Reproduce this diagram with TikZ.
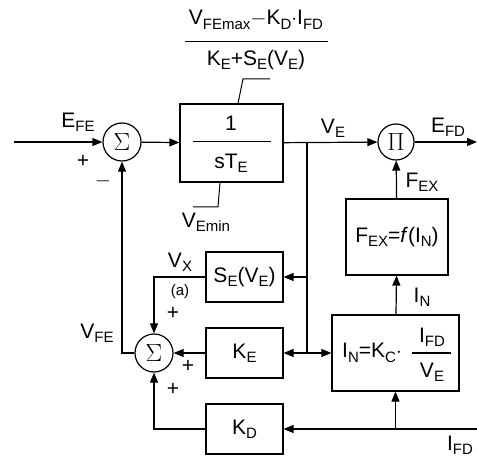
\documentclass[tikz,border=0pt]{standalone}
\usepackage{fontspec}
\setmainfont{Liberation Sans}
\usetikzlibrary{arrows.meta,positioning,calc}
\usepackage{xcolor}
% lowered small subscript
\newcommand\lo[1]{\raisebox{-0.4ex}{\fontsize{15}{15}\selectfont #1}}

\begin{document}
\begin{tikzpicture}[x=1pt,y=-1pt,line width=1.2pt,
    font=\fontsize{21}{24}\selectfont,
    >={Triangle[length=10pt,width=8pt]},
    blk/.style={draw,rectangle,inner sep=0pt},
    junc/.style={draw,circle,inner sep=0pt,minimum size=38pt,font=\fontsize{25}{28}\selectfont},
    lbl/.style={inner sep=0pt}]
  \useasboundingbox (0,0) rectangle (477,457);
  % summing points and multiplier
  \node[junc] (sum1) at (122,142) {$\Sigma$};
  \node[junc] (sum2) at (154,353) {$\Sigma$};
  \node[junc,minimum size=36pt] (mul) at (396,142) {$\Pi$};
  % blocks
  \node[blk,minimum width=103pt,minimum height=78pt] (intg) at (231.5,143) {};
  \node[blk,minimum width=102pt,minimum height=76pt] (fex) at (397,237) {F\lo{EX}=\textit{f}(I\lo{N})};
  \node[blk,minimum width=127pt,minimum height=76pt] (inb) at (395.5,353) {};
  \node[blk,minimum width=77pt,minimum height=50pt] (se) at (244.5,277) {S\lo{E}(V\lo{E})};
  \node[blk,minimum width=77pt,minimum height=50pt] (ke) at (244.5,353) {K\lo{E}};
  \node[blk,minimum width=77pt,minimum height=50pt] (kd) at (244.5,429) {K\lo{D}};
  % contents of the integrator
  \node[lbl] (one) at (231,123) {1};
  \node[lbl] (ste) at (231,163) {sT\lo{E}};
  \draw[line width=1pt] (193,142) -- (271,142);
  % contents of the rectifier block
  \node[lbl] (ineq) at (372,353) {I\lo{N}=K\lo{C}$\cdot$};
  \node[lbl] (ifdn) at (432,337) {I\lo{FD}};
  \node[lbl] (ved) at (432,372) {V\lo{E}};
  \draw[line width=1pt] (412,353) -- (451,353);
  % upper limit
  \node[lbl] (vmaxn) at (256,20) {V\lo{FEmax}$-$K\lo{D}$\cdot$I\lo{FD}};
  \node[lbl] (vmaxd) at (256,60) {K\lo{E}+S\lo{E}(V\lo{E})};
  \draw[line width=1pt] (185,42) -- (328,42);
  \coordinate (upk) at (243,79);
  \coordinate (upe) at (270,79);
  \draw[line width=1pt] (intg.north -| 238,0) -- (upk) -- (upe);
  % lower limit
  \coordinate (lok) at (218,207);
  \coordinate (loe) at (193,207);
  \draw[line width=1pt] (intg.south -| 220,0) -- (lok) -- (loe);
  \node[lbl] (vmin) at (206,222) {V\lo{Emin}};
  % coordinates
  \coordinate (in) at (14,142);
  \coordinate (out) at (477,142);
  \coordinate (br1) at (307,142);
  \coordinate (br2) at (307,353);
  \coordinate (ifdin) at (477,429);
  % main path
  \draw[->] (in) -- (sum1);
  \draw[->] (sum1) -- (intg);
  \draw[->] (intg) -- (mul);
  \draw[->] (mul) -- (out);
  \draw[->] (fex) -- (mul);
  \draw[->] (inb) -- (fex);
  % branches of V_E
  \draw (br1) -- (br2);
  \draw[->] (br2 |- se) -- (se);
  \draw[->] (br2) -- (ke);
  \draw[->] (br2) -- (inb);
  % field current
  \draw[->] (ifdin) -- (kd);
  \draw[->] (inb |- kd) -- (inb);
  % feedback paths
  \draw[->] (se) -| (sum2);
  \draw[->] (ke) -- (sum2);
  \draw[->] (kd) -| (sum2);
  \draw[->] (sum2) -| (sum1);
  % labels
  \node[lbl] at (78,122) {E\lo{FE}};
  \node[lbl] at (83,161) {+};
  \node[lbl] at (103,181) {$-$};
  \node[lbl] at (333,128) {V\lo{E}};
  \node[lbl] at (448,127) {E\lo{FD}};
  \node[lbl] at (422,182) {F\lo{EX}};
  \node[lbl] at (422,297) {I\lo{N}};
  \node[lbl] at (460,445) {I\lo{FD}};
  \node[lbl] at (97,333) {V\lo{FE}};
  \node[lbl] at (180,262) {V\lo{X}};
  \node[lbl,font=\fontsize{15}{17}\selectfont] at (180,292) {(a)};
  \node[lbl] at (173,313) {+};
  \node[lbl] at (188,366) {+};
  \node[lbl] at (173,389) {+};
\end{tikzpicture}
\end{document}
